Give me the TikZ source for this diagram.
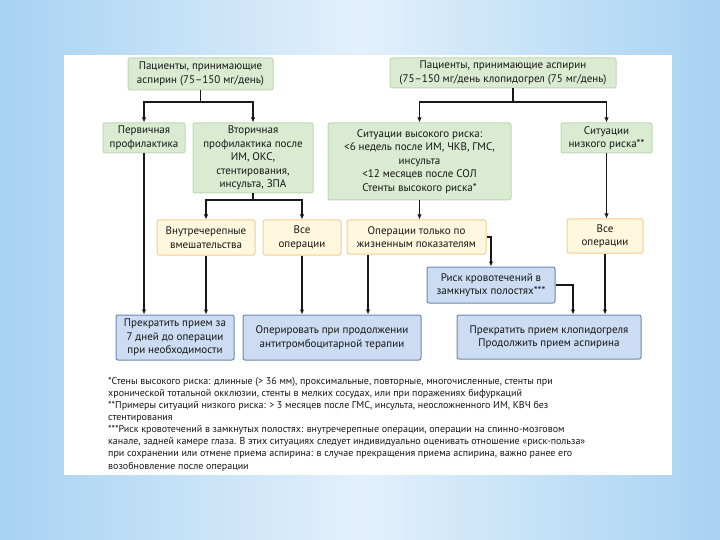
\documentclass[tikz,border=0pt]{standalone}
\usepackage{fontspec}
\setmainfont{PT Sans}
\usetikzlibrary{arrows.meta,calc}
\definecolor{bgedge}{RGB}{168,210,242}
\definecolor{bgmid}{RGB}{226,240,252}
\definecolor{gfill}{RGB}{218,235,210}
\definecolor{gline}{RGB}{190,216,180}
\definecolor{yfill}{RGB}{255,248,222}
\definecolor{yline}{RGB}{246,204,146}
\definecolor{bfill}{RGB}{204,220,242}
\definecolor{bline}{RGB}{108,136,176}
\definecolor{txt}{RGB}{22,22,22}
\definecolor{arrc}{RGB}{25,25,25}
\tikzset{
  boxbase/.style={rounded corners=2pt, align=center, inner sep=1pt, text=txt,
    font=\fontsize{11}{13.5}\selectfont},
  gbox/.style={boxbase, fill=gfill, draw=gline, line width=1pt},
  ybox/.style={boxbase, fill=yfill, draw=yline, line width=1pt},
  bbox/.style={boxbase, fill=bfill, draw=bline, line width=1pt},
  arr/.style={draw=arrc, line width=1.1pt, -{Latex[length=5pt,width=4.5pt]}},
  ln/.style={draw=arrc, line width=1.1pt}
}
\begin{document}
\begin{tikzpicture}[x=1pt,y=-1pt]
\useasboundingbox (0,0) rectangle (720,540);
\shade[left color=bgedge, right color=bgedge, middle color=bgmid] (0,0) rectangle (720,540);
\fill[white] (64,55) rectangle (672,475);

% top row
\node[gbox, minimum width=145pt, minimum height=32pt] (A) at (200.5,74) {Пациенты, принимающие\\аспирин (75–150 мг/день)};
\node[gbox, minimum width=226pt, minimum height=30pt] (B) at (503,73) {Пациенты, принимающие аспирин\\(75–150 мг/день клопидогрел (75 мг/день)};

% second row
\node[gbox, minimum width=82pt, minimum height=30pt] (C) at (144,138) {Первичная\\профилактика};
\node[gbox, minimum width=120pt, minimum height=70pt] (D) at (253,158) {Вторичная\\профилактика после\\ИМ, ОКС,\\стентирования,\\инсульта, ЗПА};
\node[gbox, minimum width=183pt, minimum height=77pt] (E) at (419.5,161.5) {Ситуации высокого риска:\\<6 недель после ИМ, ЧКВ, ГМС,\\инсульта\\<12 месяцев после СОЛ\\Стенты высокого риска*};
\node[gbox, minimum width=91pt, minimum height=30pt] (F) at (606.5,138) {Ситуации\\низкого риска**};

% third row
\node[ybox, minimum width=98pt, minimum height=35pt] (G) at (206,237.5) {Внутречерепные\\вмешательства};
\node[ybox, minimum width=78pt, minimum height=35pt] (H) at (302,237.5) {Все\\операции};
\node[ybox, minimum width=139pt, minimum height=34pt] (I) at (416.5,237) {Операции только по\\жизненным показателям};
\node[ybox, minimum width=76pt, minimum height=34pt] (J) at (605,236) {Все\\операции};

\node[bbox, minimum width=128pt, minimum height=36pt] (K) at (491,285) {Риск кровотечений в\\замкнутых полостях***};

% bottom row
\node[bbox, minimum width=118pt, minimum height=45pt] (L) at (175,337.5) {Прекратить прием за\\7 дней до операции\\при необходимости};
\node[bbox, minimum width=178pt, minimum height=45pt] (M) at (332,337.5) {Оперировать при продолжении\\антитромбоцитарной терапии};
\node[bbox, minimum width=184pt, minimum height=44pt] (N) at (549,337) {Прекратить прием клопидогреля\\Продолжить прием аспирина};

% junctions
\coordinate (jA) at (200.5,102);
\coordinate (jB) at (513,102);
\coordinate (jD) at (253,200);
\coordinate (xi) at (368,0);
\coordinate (xk) at (573,0);

\draw[ln] (A.south) -- (jA);
\draw[arr] (jA) -| (C.north);
\draw[arr] (jA) -| (D.north);

\draw[ln] (jB |- B.south) -- (jB);
\draw[arr] (jB) -| (E.north);
\draw[arr] (jB) -| (F.north);

\draw[ln] (D.south) -- (jD);
\draw[arr] (jD) -| (G.north);
\draw[arr] (jD) -| (H.north);

\draw[arr] (E.south) -- (E.south |- I.north);
\draw[arr] (F.south) -- (F.south |- J.north);

\draw[arr] (C.south) -- (C.south |- L.north);
\draw[arr] (G.south) -- (G.south |- L.north);
\draw[arr] (H.south) -- (H.south |- M.north);
\draw[arr] (I.south -| xi) -- (xi |- M.north);
\draw[arr] (I.east) -| (K.north);
\draw[arr] (K.east) -| (xk |- N.north);
\draw[arr] (J.south) -- (J.south |- N.north);

% footnotes
\node[anchor=north west, align=left, inner sep=0pt, text=txt,
      font=\fontsize{10}{12.1}\selectfont] (notes) at (108,377)
{*Стены высокого риска: длинные (> 36 мм), проксимальные, повторные, многочисленные, стенты при\\
хронической тотальной окклюзии, стенты в мелких сосудах, или при поражениях бифуркаций\\
**Примеры ситуаций низкого риска: > 3 месяцев после ГМС, инсульта, неосложненного ИМ, КВЧ без\\
стентирования\\
***Риск кровотечений в замкнутых полостях: внутречерепные операции, операции на спинно-мозговом\\
канале, задней камере глаза. В этих ситуациях следует индивидуально оценивать отношение «риск-польза»\\
при сохранении или отмене приема аспирина: в случае прекращения приема аспирина, важно ранее его\\
возобновление после операции};
\end{tikzpicture}
\end{document}
